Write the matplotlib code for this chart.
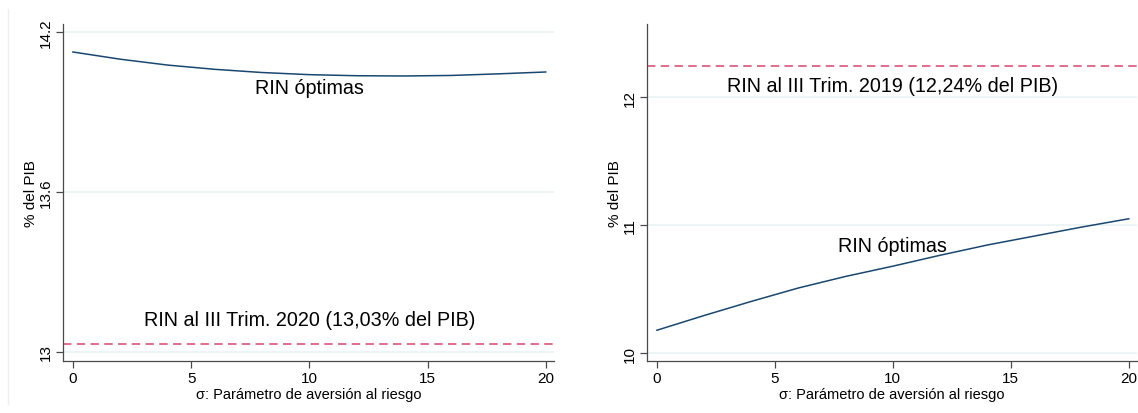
import matplotlib
matplotlib.use("Agg")
import matplotlib.pyplot as plt
from matplotlib.lines import Line2D

plt.rcParams['font.family'] = ['Liberation Sans', 'DejaVu Sans']

sigma = [0, 2, 4, 6, 8, 10, 12, 14, 16, 18, 20]
rin_opt_2020 = [14.125, 14.098, 14.076, 14.060, 14.048, 14.040, 14.036, 14.035, 14.037, 14.043, 14.050]
rin_obs_2020 = 13.03
rin_opt_2019 = [10.18, 10.295, 10.405, 10.51, 10.60, 10.68, 10.765, 10.845, 10.915, 10.985, 11.05]
rin_obs_2019 = 12.24

xticks = [0, 5, 10, 15, 20]
yticks_left = [13, 13.6, 14.2]
yticks_right = [10, 11, 12]

xlabel = "σ: Parámetro de aversión al riesgo"
ylabel = "% del PIB"
label_opt = "RIN óptimas"
label_2020 = "RIN al III Trim. 2020 (13,03% del PIB)"
label_2019 = "RIN al III Trim. 2019 (12,24% del PIB)"

navy = "#1a476f"
pink = "#d8456e"
grid_c = "#eaf2f3"
axis_c = "#4a4a4a"

fig = plt.figure(figsize=(11.38, 4.14), dpi=100)
fig.patch.set_facecolor("white")

axL = fig.add_axes([63/1138, 1-362/414, 491/1138, 337/414])
axR = fig.add_axes([647/1138, 1-362/414, 490/1138, 337/414])


def style(ax, yticks, ylim):
    ax.set_xlim(-0.42, 20.35)
    ax.set_ylim(*ylim)
    for s in ["top", "right"]:
        ax.spines[s].set_visible(False)
    for s in ["left", "bottom"]:
        ax.spines[s].set_color(axis_c)
        ax.spines[s].set_linewidth(0.9)
    ax.set_xticks(xticks)
    ax.set_yticks(yticks)
    ax.set_yticklabels([f"{t:g}" for t in yticks], rotation=90, va="center")
    ax.tick_params(axis="both", colors=axis_c, labelcolor="black", labelsize=11,
                   length=5, width=0.9, direction="out", pad=2)
    for t in yticks:
        ax.axhline(t, color=grid_c, lw=1.2, zorder=0)
    ax.set_xlabel(xlabel, fontsize=10.5, labelpad=2)
    ax.set_ylabel(ylabel, fontsize=11, labelpad=1)


style(axL, yticks_left, (12.966, 14.23))
axL.plot(sigma, rin_opt_2020, color=navy, lw=1.1)
axL.axhline(rin_obs_2020, color=pink, lw=1.1, ls=(0, (5.5, 3.5)))
axL.text(10, 13.99, label_opt, ha="center", va="center", fontsize=14.2)
axL.text(10, 13.122, label_2020, ha="center", va="center", fontsize=14.2)

style(axR, yticks_right, (9.94, 12.57))
axR.plot(sigma, rin_opt_2019, color=navy, lw=1.1)
axR.axhline(rin_obs_2019, color=pink, lw=1.1, ls=(0, (5.5, 3.5)))
axR.text(10, 10.84, label_opt, ha="center", va="center", fontsize=14.2)
axR.text(10, 12.09, label_2019, ha="center", va="center", fontsize=14.2)

fig.add_artist(Line2D([8/1138, 8/1138], [1-10/414, 1-405/414], color="#eeeeee", lw=1,
                      transform=fig.transFigure))

fig.savefig("out.png", dpi=100, facecolor="white")
